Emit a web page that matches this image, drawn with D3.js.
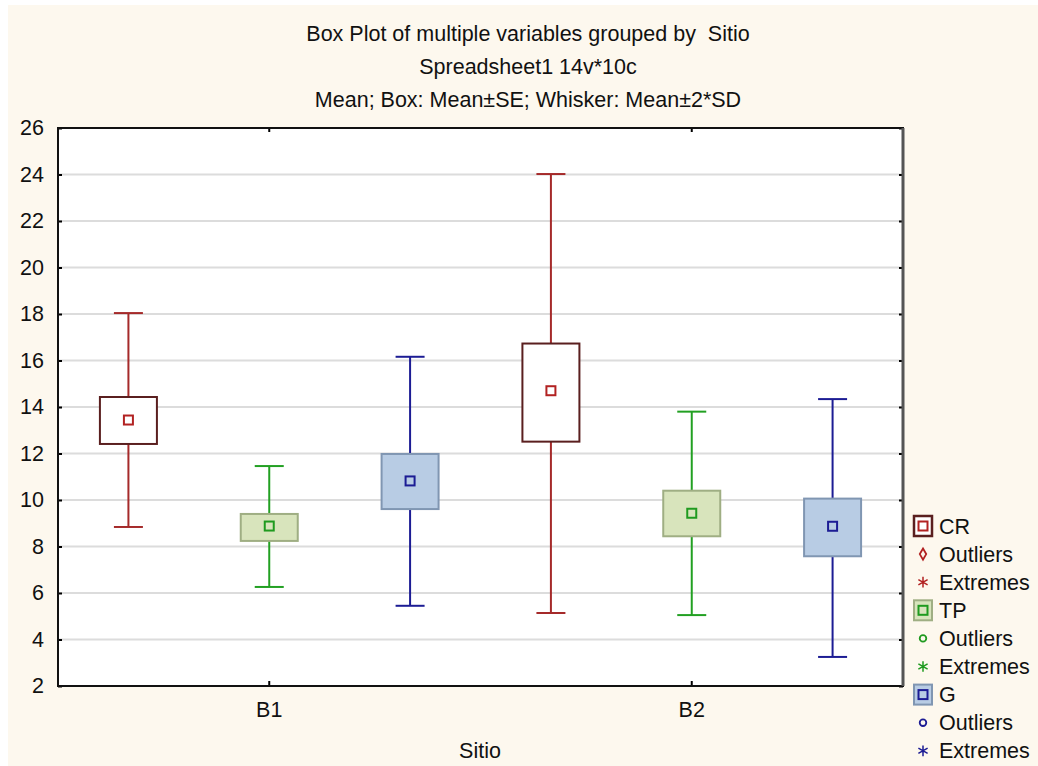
<!DOCTYPE html>
<html>
<head>
<meta charset="utf-8">
<script src="https://cdn.jsdelivr.net/npm/d3@7"></script>
<style>
  html, body { margin: 0; padding: 0; background: #ffffff; }
  svg { display: block; font-family: Arial, "Liberation Sans", sans-serif; }
</style>
</head>
<body>
<div id="chart"></div>
<script>
// groups and variables
var sites = ['B1', 'B2'];
var variables = ['CR', 'TP', 'G'];
var yTicks = [2, 4, 6, 8, 10, 12, 14, 16, 18, 20, 22, 24, 26];

// per variable, in site order: mean, mean-SE, mean+SE, mean-2SD, mean+2SD
var crMean = [13.44, 14.70];
var crBoxLo = [12.41, 12.51];
var crBoxHi = [14.43, 16.73];
var crWhiskLo = [8.84, 5.14];
var crWhiskHi = [18.04, 24.02];

var tpMean = [8.88, 9.43];
var tpBoxLo = [8.24, 8.44];
var tpBoxHi = [9.40, 10.40];
var tpWhiskLo = [6.26, 5.05];
var tpWhiskHi = [11.46, 13.80];

var gMean = [10.82, 8.87];
var gBoxLo = [9.61, 7.58];
var gBoxHi = [11.98, 10.06];
var gWhiskLo = [5.45, 3.25];
var gWhiskHi = [16.16, 14.34];

var titles = ['Box Plot of multiple variables grouped by  Sitio', 'Spreadsheet1 14v*10c', 'Mean; Box: Mean\u00b1SE; Whisker: Mean\u00b12*SD'];

var styles = {
	CR: {line: '#a52a2a', box: '#ffffff', boxStroke: '#5a1f1f', mark: '#b22222'},
	TP: {line: '#22a022', box: '#d8e4bc', boxStroke: '#9fae83', mark: '#1f9a1f'},
	G:  {line: '#1c1c94', box: '#b8cce4', boxStroke: '#8096b2', mark: '#1c1c94'}
};

var raw = {
	CR: [crMean, crBoxLo, crBoxHi, crWhiskLo, crWhiskHi],
	TP: [tpMean, tpBoxLo, tpBoxHi, tpWhiskLo, tpWhiskHi],
	G:  [gMean, gBoxLo, gBoxHi, gWhiskLo, gWhiskHi]
};
var data = [];
sites.forEach(function(s, i) {
	variables.forEach(function(v) {
		var r = raw[v];
		data.push({site: s, v: v, mean: r[0][i], lo: r[1][i], hi: r[2][i], wlo: r[3][i], whi: r[4][i]});
	});
});

var W = 1038, H = 766;
var plot = {l: 58, r: 903, t: 128, b: 686};
var fs = 21.5;

var svg = d3.select('#chart').append('svg')
	.attr('width', W)
	.attr('height', H);

// cream panel with thin white margin
svg.append('rect').attr('x', 0).attr('y', 0).attr('width', W).attr('height', H).attr('fill', '#ffffff');
svg.append('rect').attr('x', 8).attr('y', 5).attr('width', W - 8).attr('height', H - 5).attr('fill', '#fdf8ee');

var x0 = d3.scaleBand().domain(sites).range([plot.l, plot.r]);
var x1 = d3.scaleBand().domain(variables).range([0, x0.bandwidth()]);
var y = d3.scaleLinear().domain([2, 26]).range([plot.b, plot.t]);

var boxW = 57, capW = 29, markS = 9;

svg.append('rect')
	.attr('x', plot.l).attr('y', plot.t)
	.attr('width', plot.r - plot.l).attr('height', plot.b - plot.t)
	.attr('fill', '#ffffff');

// gridlines
svg.append('g')
	.selectAll('line')
	.data(yTicks.slice(1, -1))
	.enter()
	.append('line')
		.attr('x1', plot.l).attr('x2', plot.r)
		.attr('y1', d => y(d)).attr('y2', d => y(d))
		.attr('stroke', '#dcdcdc')
		.attr('stroke-width', 2);

// axes
var yAxisL = d3.axisLeft(y).tickValues(yTicks).tickSize(-4).tickPadding(14).tickFormat(d3.format('d'));
var yAxisR = d3.axisRight(y).tickValues(yTicks).tickSize(-4).tickFormat('');
var xAxisB = d3.axisBottom(x0).tickSize(-5).tickPadding(16);
var xAxisT = d3.axisTop(x0).tickSize(-4).tickFormat('');

svg.append('g').attr('class', 'axis')
	.attr('transform', 'translate(' + plot.l + ',0)')
	.call(yAxisL);
svg.append('g').attr('class', 'axis')
	.attr('transform', 'translate(' + plot.r + ',0)')
	.call(yAxisR);
svg.append('g').attr('class', 'axis')
	.attr('transform', 'translate(0,' + plot.b + ')')
	.call(xAxisB);
svg.append('g').attr('class', 'axis')
	.attr('transform', 'translate(0,' + plot.t + ')')
	.call(xAxisT);

svg.selectAll('.axis .domain').remove();
svg.selectAll('.axis line').attr('stroke', '#000').attr('stroke-width', 2);
svg.selectAll('.axis text').attr('fill', '#111').attr('font-size', fs);

// frame
svg.append('rect')
	.attr('x', plot.l).attr('y', plot.t)
	.attr('width', plot.r - plot.l).attr('height', plot.b - plot.t)
	.attr('fill', 'none')
	.attr('stroke', '#111')
	.attr('stroke-width', 2);
svg.append('line')
	.attr('x1', plot.r).attr('x2', plot.r).attr('y1', plot.t).attr('y2', plot.b)
	.attr('stroke', '#555').attr('stroke-width', 3);

// boxes
var g = svg.append('g').attr('class', 'boxes')
	.selectAll('g')
	.data(data)
	.enter()
	.append('g')
		.attr('transform', d => 'translate(' + (x0(d.site) + x1(d.v) + x1.bandwidth() / 2) + ',0)');

g.append('line')
	.attr('x1', 0).attr('x2', 0)
	.attr('y1', d => y(d.whi)).attr('y2', d => y(d.wlo))
	.attr('stroke', d => styles[d.v].line).attr('stroke-width', 2);
g.append('line')
	.attr('x1', -capW / 2).attr('x2', capW / 2)
	.attr('y1', d => y(d.whi)).attr('y2', d => y(d.whi))
	.attr('stroke', d => styles[d.v].line).attr('stroke-width', 2);
g.append('line')
	.attr('x1', -capW / 2).attr('x2', capW / 2)
	.attr('y1', d => y(d.wlo)).attr('y2', d => y(d.wlo))
	.attr('stroke', d => styles[d.v].line).attr('stroke-width', 2);
g.append('rect')
	.attr('x', -boxW / 2).attr('width', boxW)
	.attr('y', d => y(d.hi)).attr('height', d => y(d.lo) - y(d.hi))
	.attr('fill', d => styles[d.v].box)
	.attr('stroke', d => styles[d.v].boxStroke).attr('stroke-width', 2);
g.append('rect')
	.attr('x', -markS / 2).attr('width', markS)
	.attr('y', d => y(d.mean) - markS / 2).attr('height', markS)
	.attr('fill', 'none')
	.attr('stroke', d => styles[d.v].mark).attr('stroke-width', 2);

// titles
svg.append('g')
	.selectAll('text')
	.data(titles)
	.enter()
	.append('text')
		.attr('x', 528)
		.attr('y', (d, i) => 41 + i * 33)
		.attr('text-anchor', 'middle')
		.attr('font-size', fs)
		.attr('fill', '#111')
		.style('white-space', 'pre')
		.text(d => d);

svg.append('text')
	.attr('x', 480).attr('y', 758)
	.attr('text-anchor', 'middle')
	.attr('font-size', fs)
	.attr('fill', '#111')
	.text('Sitio');

// legend
var legendRows = [];
variables.forEach(function(v) {
	legendRows.push({v: v, kind: 'box', label: v});
	legendRows.push({v: v, kind: 'out', label: 'Outliers'});
	legendRows.push({v: v, kind: 'ext', label: 'Extremes'});
});

var leg = svg.append('g').attr('class', 'legend')
	.selectAll('g')
	.data(legendRows)
	.enter()
	.append('g')
		.attr('transform', (d, i) => 'translate(923,' + (526 + i * 28.1) + ')');

leg.filter(d => d.kind === 'box').append('rect')
	.attr('x', -9).attr('y', -10).attr('width', 18).attr('height', 20)
	.attr('fill', d => styles[d.v].box)
	.attr('stroke', d => styles[d.v].boxStroke)
	.attr('stroke-width', d => d.v === 'CR' ? 2.5 : 2);
leg.filter(d => d.kind === 'box').append('rect')
	.attr('x', -4.5).attr('y', -4.5).attr('width', 9).attr('height', 9)
	.attr('fill', 'none')
	.attr('stroke', d => styles[d.v].mark).attr('stroke-width', 2);
leg.filter(d => d.kind === 'out').append('path')
	.attr('d', d => d.v === 'CR'
		? d3.symbol(d3.symbolDiamond, 36)()
		: d3.symbol(d3.symbolCircle, 34)())
	.attr('fill', 'none')
	.attr('stroke', d => styles[d.v].mark).attr('stroke-width', 1.8);
leg.filter(d => d.kind === 'ext').append('path')
	.attr('d', d3.symbol(d3.symbolAsterisk, 80)())
	.attr('fill', 'none')
	.attr('stroke', d => styles[d.v].mark).attr('stroke-width', 1.5);
leg.append('text')
	.attr('x', 16).attr('y', 7.5)
	.attr('font-size', fs)
	.attr('fill', '#111')
	.text(d => d.label);
</script>
</body>
</html>
